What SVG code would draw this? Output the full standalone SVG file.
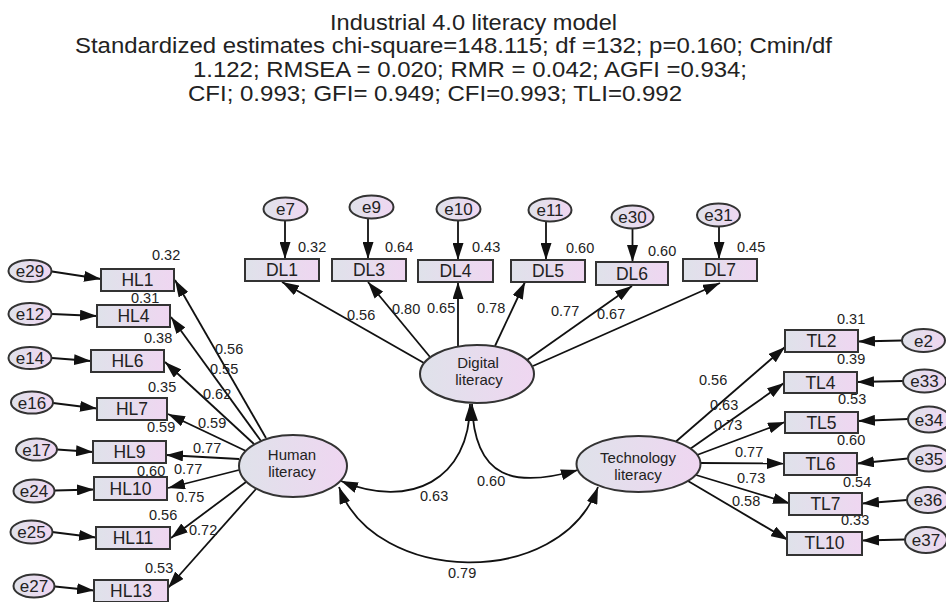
<svg xmlns="http://www.w3.org/2000/svg" width="946" height="602" viewBox="0 0 946 602">
<defs>
<linearGradient id="g" x1="0" y1="0" x2="1" y2="0">
<stop offset="0" stop-color="#dfe2ea"/>
<stop offset="1" stop-color="#efd6f1"/>
</linearGradient>
<marker id="a" markerUnits="userSpaceOnUse" viewBox="0 0 17 11" markerWidth="17" markerHeight="11" refX="17" refY="5.5" orient="auto">
<path d="M0,0 L17,5.5 L0,11 Z" fill="#111"/>
</marker>
<marker id="as" markerUnits="userSpaceOnUse" viewBox="0 0 17 11" markerWidth="17" markerHeight="11" refX="17" refY="5.5" orient="auto-start-reverse">
<path d="M0,0 L17,5.5 L0,11 Z" fill="#111"/>
</marker>
</defs>
<style>
text{font-family:"Liberation Sans",Arial,sans-serif;fill:#222}
.t{font-size:22.5px}
.box{fill:url(#g);stroke:#333;stroke-width:2}
.ell{fill:url(#g);stroke:#333;stroke-width:2}
.bl{font-size:17.5px;text-anchor:middle}
.el{font-size:17px;text-anchor:middle}
.ll{font-size:15px;text-anchor:middle}
.n{font-size:14.5px}
.c{fill:none;stroke:#111;stroke-width:1.8;marker-end:url(#a)}
.cv{fill:none;stroke:#111;stroke-width:1.8;marker-end:url(#a);marker-start:url(#as)}
</style>
<rect width="946" height="602" fill="#fff"/>
<g id="title">
<text class="t" x="330" y="30" textLength="287" lengthAdjust="spacingAndGlyphs">Industrial 4.0 literacy model</text>
<text class="t" x="75" y="53" textLength="757" lengthAdjust="spacingAndGlyphs">Standardized estimates chi-square=148.115; df =132; p=0.160; Cmin/df</text>
<text class="t" x="193" y="77" textLength="554" lengthAdjust="spacingAndGlyphs">1.122; RMSEA = 0.020; RMR = 0.042; AGFI =0.934;</text>
<text class="t" x="188" y="101" textLength="494" lengthAdjust="spacingAndGlyphs">CFI; 0.993; GFI= 0.949; CFI=0.993; TLI=0.992</text>
</g>
<g id="connectors">
<path class="c" d="M52,271.5 L101,279"/>
<path class="c" d="M52,314 L97,316"/>
<path class="c" d="M52,358 L91,361"/>
<path class="c" d="M53,403 L97,408.5"/>
<path class="c" d="M57,449.5 L93,452"/>
<path class="c" d="M55,490.5 L94,489.5"/>
<path class="c" d="M52,532 L96,537.5"/>
<path class="c" d="M55,586.5 L94,590.5"/>
<path class="c" d="M285,220.5 L285,259"/>
<path class="c" d="M368,218.5 L368,259"/>
<path class="c" d="M458,220.5 L458,260"/>
<path class="c" d="M546,221.5 L546,260"/>
<path class="c" d="M632.5,228.5 L632.5,262"/>
<path class="c" d="M719,226.5 L719,259"/>
<path class="c" d="M902,340.5 L858,341.5"/>
<path class="c" d="M903,381 L857,382"/>
<path class="c" d="M908,419 L858,421"/>
<path class="c" d="M908,458.5 L857,463.5"/>
<path class="c" d="M907,500 L862,503.5"/>
<path class="c" d="M905,539.5 L862,540.5"/>
<path class="c" d="M266,438 L175,280"/>
<path class="c" d="M261,441 L171,317"/>
<path class="c" d="M254,444 L165,362"/>
<path class="c" d="M246,451 L168,414"/>
<path class="c" d="M239,459 L166,455"/>
<path class="c" d="M239,470 L168,488"/>
<path class="c" d="M246,482 L171,538"/>
<path class="c" d="M256,489 L168,588"/>
<path class="c" d="M424,363 L282,282"/>
<path class="c" d="M430,357 L368,282"/>
<path class="c" d="M458,347 L458,282"/>
<path class="c" d="M495,346 L525,282"/>
<path class="c" d="M527,360 L632,286"/>
<path class="c" d="M533,366 L720,283"/>
<path class="c" d="M676,441.5 L785,347"/>
<path class="c" d="M690,449 L784,383"/>
<path class="c" d="M697,455 L785,422"/>
<path class="c" d="M700,463 L784,463.5"/>
<path class="c" d="M696,475 L790,503.5"/>
<path class="c" d="M688,481 L788,540"/>
<path class="cv" d="M341,481 C410,510 470,480 470,404"/>
<path class="cv" d="M472,404 C474,480 515,488 578,470"/>
<path class="cv" d="M339,487 C375,585 560,590 598,487"/>
<text class="n" x="215" y="354">0.56</text>
<text class="n" x="210" y="374">0.55</text>
<text class="n" x="203" y="399">0.62</text>
<text class="n" x="198" y="428">0.59</text>
<text class="n" x="193" y="453">0.77</text>
<text class="n" x="174" y="474">0.77</text>
<text class="n" x="176" y="502">0.75</text>
<text class="n" x="189" y="535">0.72</text>
<text class="n" x="347" y="320">0.56</text>
<text class="n" x="392" y="314">0.80</text>
<text class="n" x="427" y="313">0.65</text>
<text class="n" x="477" y="313">0.78</text>
<text class="n" x="551" y="316">0.77</text>
<text class="n" x="597" y="319">0.67</text>
<text class="n" x="699" y="385">0.56</text>
<text class="n" x="710" y="410">0.63</text>
<text class="n" x="714" y="430">0.73</text>
<text class="n" x="735" y="457">0.77</text>
<text class="n" x="737" y="483">0.73</text>
<text class="n" x="732" y="506">0.58</text>
<text class="n" x="420" y="501">0.63</text>
<text class="n" x="477" y="486">0.60</text>
<text class="n" x="448" y="578">0.79</text>
</g>
<g id="r2labels">
<text class="n" x="152" y="260">0.32</text>
<text class="n" x="131" y="303">0.31</text>
<text class="n" x="144" y="343">0.38</text>
<text class="n" x="148" y="392">0.35</text>
<text class="n" x="147" y="432">0.59</text>
<text class="n" x="137" y="476">0.60</text>
<text class="n" x="149" y="520">0.56</text>
<text class="n" x="145" y="573">0.53</text>
<text class="n" x="298" y="252">0.32</text>
<text class="n" x="385" y="252">0.64</text>
<text class="n" x="472" y="252">0.43</text>
<text class="n" x="566" y="253">0.60</text>
<text class="n" x="648" y="256">0.60</text>
<text class="n" x="737" y="252">0.45</text>
<text class="n" x="837" y="324">0.31</text>
<text class="n" x="837" y="364">0.39</text>
<text class="n" x="838" y="404">0.53</text>
<text class="n" x="837" y="445">0.60</text>
<text class="n" x="843" y="487">0.54</text>
<text class="n" x="841" y="525">0.33</text>
</g>
<g id="human"><ellipse class="ell" cx="293" cy="466" rx="54" ry="31"/><text class="ll" x="292" y="460">Human</text><text class="ll" x="292" y="477">literacy</text></g>
<g id="digital"><ellipse class="ell" cx="477" cy="374" rx="57" ry="29"/><text class="ll" x="478" y="368">Digital</text><text class="ll" x="479" y="385">literacy</text></g>
<g id="technology"><ellipse class="ell" cx="638.5" cy="464" rx="62" ry="28"/><text class="ll" x="638" y="463">Technology</text><text class="ll" x="638" y="480">literacy</text></g>
<g id="HL1"><rect class="box" x="101" y="269" width="73" height="22"/><text class="bl" x="137.5" y="286">HL1</text></g>
<g id="HL4"><rect class="box" x="97" y="305" width="73" height="22"/><text class="bl" x="133.5" y="322">HL4</text></g>
<g id="HL6"><rect class="box" x="91" y="350" width="73" height="22"/><text class="bl" x="127.5" y="367">HL6</text></g>
<g id="HL7"><rect class="box" x="97" y="398" width="70" height="22"/><text class="bl" x="132" y="415">HL7</text></g>
<g id="HL9"><rect class="box" x="93" y="441" width="73" height="22"/><text class="bl" x="129.5" y="458">HL9</text></g>
<g id="HL10"><rect class="box" x="94" y="477" width="73" height="23"/><text class="bl" x="130.5" y="495">HL10</text></g>
<g id="HL11"><rect class="box" x="96" y="527" width="74" height="22"/><text class="bl" x="133" y="544">HL11</text></g>
<g id="HL13"><rect class="box" x="94" y="580" width="74" height="22"/><text class="bl" x="131" y="597">HL13</text></g>
<g id="DL1"><rect class="box" x="245" y="259" width="74" height="22"/><text class="bl" x="282" y="276">DL1</text></g>
<g id="DL3"><rect class="box" x="332" y="259" width="74" height="22"/><text class="bl" x="369" y="276">DL3</text></g>
<g id="DL4"><rect class="box" x="418" y="260" width="75" height="22"/><text class="bl" x="455.5" y="277">DL4</text></g>
<g id="DL5"><rect class="box" x="511" y="260" width="74" height="22"/><text class="bl" x="548" y="277">DL5</text></g>
<g id="DL6"><rect class="box" x="596" y="262" width="72" height="23"/><text class="bl" x="632" y="280">DL6</text></g>
<g id="DL7"><rect class="box" x="683" y="259" width="74" height="22"/><text class="bl" x="720" y="276">DL7</text></g>
<g id="TL2"><rect class="box" x="785" y="330" width="73" height="22"/><text class="bl" x="821.5" y="347">TL2</text></g>
<g id="TL4"><rect class="box" x="784" y="372" width="73" height="21"/><text class="bl" x="820.5" y="388.5">TL4</text></g>
<g id="TL5"><rect class="box" x="785" y="412" width="73" height="21"/><text class="bl" x="821.5" y="428.5">TL5</text></g>
<g id="TL6"><rect class="box" x="784" y="453" width="73" height="22"/><text class="bl" x="820.5" y="470">TL6</text></g>
<g id="TL7"><rect class="box" x="789" y="493" width="73" height="22"/><text class="bl" x="825.5" y="510">TL7</text></g>
<g id="TL10"><rect class="box" x="787" y="532" width="75" height="23"/><text class="bl" x="824.5" y="549">TL10</text></g>
<g id="e29"><ellipse class="ell" cx="30" cy="271" rx="21.5" ry="11"/><text class="el" x="30" y="277">e29</text></g>
<g id="e12"><ellipse class="ell" cx="30" cy="314" rx="21.5" ry="11"/><text class="el" x="30" y="320">e12</text></g>
<g id="e14"><ellipse class="ell" cx="30" cy="358" rx="21.5" ry="11"/><text class="el" x="30" y="364">e14</text></g>
<g id="e16"><ellipse class="ell" cx="32" cy="402.5" rx="21" ry="11"/><text class="el" x="32" y="408.5">e16</text></g>
<g id="e17"><ellipse class="ell" cx="36.5" cy="449.5" rx="20.5" ry="11"/><text class="el" x="36.5" y="455.5">e17</text></g>
<g id="e24"><ellipse class="ell" cx="34" cy="491" rx="20.5" ry="11.5"/><text class="el" x="34" y="497">e24</text></g>
<g id="e25"><ellipse class="ell" cx="31.5" cy="532" rx="21" ry="11.5"/><text class="el" x="31.5" y="538">e25</text></g>
<g id="e27"><ellipse class="ell" cx="34" cy="586" rx="20.5" ry="11.5"/><text class="el" x="34" y="592">e27</text></g>
<g id="e7"><ellipse class="ell" cx="285.5" cy="209" rx="22" ry="11.5"/><text class="el" x="285.5" y="215">e7</text></g>
<g id="e9"><ellipse class="ell" cx="371.5" cy="207" rx="22" ry="11.5"/><text class="el" x="371.5" y="213">e9</text></g>
<g id="e10"><ellipse class="ell" cx="458.5" cy="209" rx="22" ry="11.5"/><text class="el" x="458.5" y="215">e10</text></g>
<g id="e11"><ellipse class="ell" cx="550" cy="210" rx="21.5" ry="11.5"/><text class="el" x="550" y="216">e11</text></g>
<g id="e30"><ellipse class="ell" cx="632.5" cy="217" rx="21" ry="11.5"/><text class="el" x="632.5" y="223">e30</text></g>
<g id="e31"><ellipse class="ell" cx="718.5" cy="215" rx="21.5" ry="11.5"/><text class="el" x="718.5" y="221">e31</text></g>
<g id="e2"><ellipse class="ell" cx="923.5" cy="340.5" rx="21.5" ry="11.5"/><text class="el" x="923.5" y="346.5">e2</text></g>
<g id="e33"><ellipse class="ell" cx="924.5" cy="381" rx="21.5" ry="11.5"/><text class="el" x="924.5" y="387">e33</text></g>
<g id="e34"><ellipse class="ell" cx="929" cy="419.5" rx="21" ry="13"/><text class="el" x="929" y="425.5">e34</text></g>
<g id="e35"><ellipse class="ell" cx="929" cy="458.5" rx="21" ry="13"/><text class="el" x="929" y="464.5">e35</text></g>
<g id="e36"><ellipse class="ell" cx="928" cy="500" rx="21" ry="13"/><text class="el" x="928" y="506">e36</text></g>
<g id="e37"><ellipse class="ell" cx="926" cy="540" rx="21" ry="13"/><text class="el" x="926" y="546">e37</text></g>
</svg>
